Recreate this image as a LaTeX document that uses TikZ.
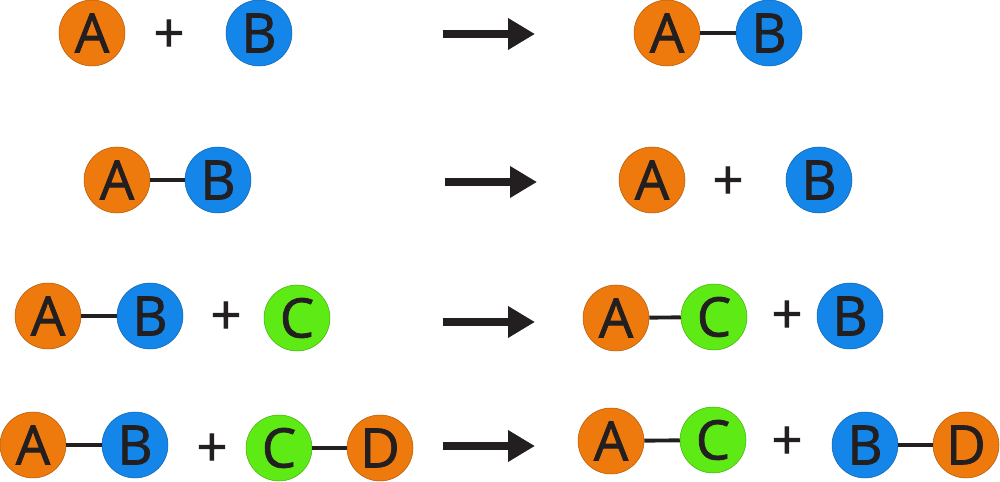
\documentclass[tikz,border=0pt]{standalone}
\usepackage{fontspec}
\setmainfont{Open Sans}
\newfontfamily\atomfont{Open Sans}[FakeBold=1.4]
\usetikzlibrary{arrows.meta,positioning}
\definecolor{atomorange}{RGB}{238,122,14}
\definecolor{atomblue}{RGB}{20,134,234}
\definecolor{atomgreen}{RGB}{94,234,20}
\definecolor{inkdark}{RGB}{35,31,32}

\begin{document}
\begin{tikzpicture}[x=0.02cm,y=-0.02cm,
  atom/.style={circle,minimum size=1.32cm,inner sep=0pt,font=\atomfont\fontsize{31}{31}\selectfont,
    text=inkdark,draw=#1!75!black,line width=0.3pt,fill=#1},
  plussign/.style={font=\atomfont\fontsize{31}{31}\selectfont,text=inkdark,inner sep=0pt},
  bond/.style={line width=2.2pt,inkdark},
  react/.style={line width=5pt,inkdark,-{Triangle[length=0.54cm,width=0.6cm]}}
]
  \useasboundingbox (0,0) rectangle (1000,482);
  % Row 1: A + B -> A-B
  \node[atom=atomorange] (a1) at (92,33) {A};
  \node[plussign] (p1) at (169,36) {+};
  \node[atom=atomblue] (b1) at (259,33) {B};
  \coordinate (r1s) at (443,34);
  \coordinate (r1e) at (535,34);
  \draw[react] (r1s) -- (r1e);
  \node[atom=atomorange] (a1r) at (667,33) {A};
  \node[atom=atomblue] (b1r) at (769,33) {B};
  \draw[bond] (a1r) -- (b1r);
  % Row 2: A-B -> A + B
  \node[atom=atomorange] (a2) at (117,180) {A};
  \node[atom=atomblue] (b2) at (218,180) {B};
  \draw[bond] (a2) -- (b2);
  \coordinate (r2s) at (445,182);
  \coordinate (r2e) at (537,182);
  \draw[react] (r2s) -- (r2e);
  \node[atom=atomorange] (a2r) at (652,180) {A};
  \node[plussign] (p2r) at (728,183) {+};
  \node[atom=atomblue] (b2r) at (819,180) {B};
  % Row 3: A-B + C -> A-C + B
  \node[atom=atomorange] (a3) at (48,316) {A};
  \node[atom=atomblue] (b3) at (150,316) {B};
  \draw[bond] (a3) -- (b3);
  \node[plussign] (p3) at (226,318) {+};
  \node[atom=atomgreen] (c3) at (297,318) {C};
  \coordinate (r3s) at (443,322);
  \coordinate (r3e) at (535,322);
  \draw[react] (r3s) -- (r3e);
  \node[atom=atomorange] (a3r) at (616,318) {A};
  \node[atom=atomgreen] (c3r) at (714,317) {C};
  \draw[bond] (a3r) -- (c3r);
  \node[plussign] (p3r) at (787,317) {+};
  \node[atom=atomblue] (b3r) at (850,316) {B};
  % Row 4: A-B + C-D -> A-C + B-D
  \node[atom=atomorange] (a4) at (33,445) {A};
  \node[atom=atomblue] (b4) at (135,445) {B};
  \draw[bond] (a4) -- (b4);
  \node[plussign] (p4) at (212,450) {+};
  \node[atom=atomgreen] (c4) at (279,448) {C};
  \node[atom=atomorange] (d4) at (380,448) {D};
  \draw[bond] (c4) -- (d4);
  \coordinate (r4s) at (443,446);
  \coordinate (r4e) at (535,446);
  \draw[react] (r4s) -- (r4e);
  \node[atom=atomorange] (a4r) at (611,441) {A};
  \node[atom=atomgreen] (c4r) at (713,440) {C};
  \draw[bond] (a4r) -- (c4r);
  \node[plussign] (p4r) at (787,443) {+};
  \node[atom=atomblue] (b4r) at (865,445) {B};
  \node[atom=atomorange] (d4r) at (966,445) {D};
  \draw[bond] (b4r) -- (d4r);
\end{tikzpicture}
\end{document}
